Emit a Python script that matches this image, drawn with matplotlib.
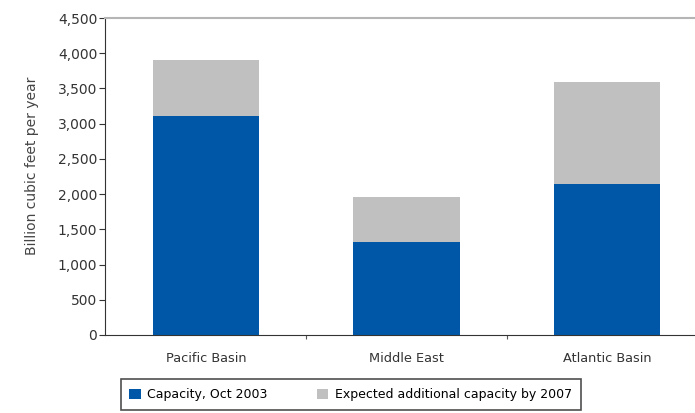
import matplotlib
matplotlib.use("Agg")
import matplotlib.pyplot as plt
import numpy as np

regions = ["Pacific Basin", "Middle East", "Atlantic Basin"]
capacity_2003 = [3110, 1320, 2145]
additional_2007 = [790, 640, 1450]
yticks = [0, 500, 1000, 1500, 2000, 2500, 3000, 3500, 4000, 4500]

plt.rcParams['font.family'] = ['DejaVu Sans']

fig = plt.figure(figsize=(6.95, 4.13), dpi=100, facecolor='white')
ax = fig.add_axes([105 / 695, 1 - 335 / 413, 590 / 695, 317 / 413])

x = np.arange(len(regions))
w = 0.53
ax.bar(x, capacity_2003, w, color='#0057a8', label='Capacity, Oct 2003')
ax.bar(x, additional_2007, w, bottom=capacity_2003, color='#c0c0c0',
       label='Expected additional capacity by 2007')

ax.set_xlim(-0.505, 2.44)
ax.set_ylim(0, 4500)
ax.set_yticks(yticks)
ax.set_yticklabels([f"{v:,}" for v in yticks], fontsize=10, color='#333333')
ax.set_xticks(x)
ax.set_xticklabels(regions, fontsize=9.3, color='#333333')
ax.set_xticks([0.5, 1.5], minor=True)
ax.tick_params(axis='x', which='major', length=0, pad=12)
ax.tick_params(axis='x', which='minor', length=3, width=0.8, color='#555555')
ax.tick_params(axis='y', length=4, width=0.8, pad=1.5, color='#333333')
ax.set_ylabel('Billion cubic feet per year', fontsize=10, color='#444444')
ax.yaxis.set_label_coords(-0.112, 0.533)

ax.spines['right'].set_visible(False)
ax.spines['top'].set_color('#b5b5b5')
ax.spines['top'].set_linewidth(1.5)
ax.spines['left'].set_color('#333333')
ax.spines['bottom'].set_color('#333333')

leg = fig.legend(loc='center', bbox_to_anchor=(350.5 / 695, 1 - 394.5 / 413),
                 ncol=2, fontsize=9, frameon=True, fancybox=False,
                 handlelength=0.9, handleheight=0.9, handletextpad=0.5,
                 borderpad=0.7, borderaxespad=0, columnspacing=4.0)
leg.get_frame().set_edgecolor('#222222')
leg.get_frame().set_linewidth(1.2)

fig.savefig('out.png', dpi=100)
